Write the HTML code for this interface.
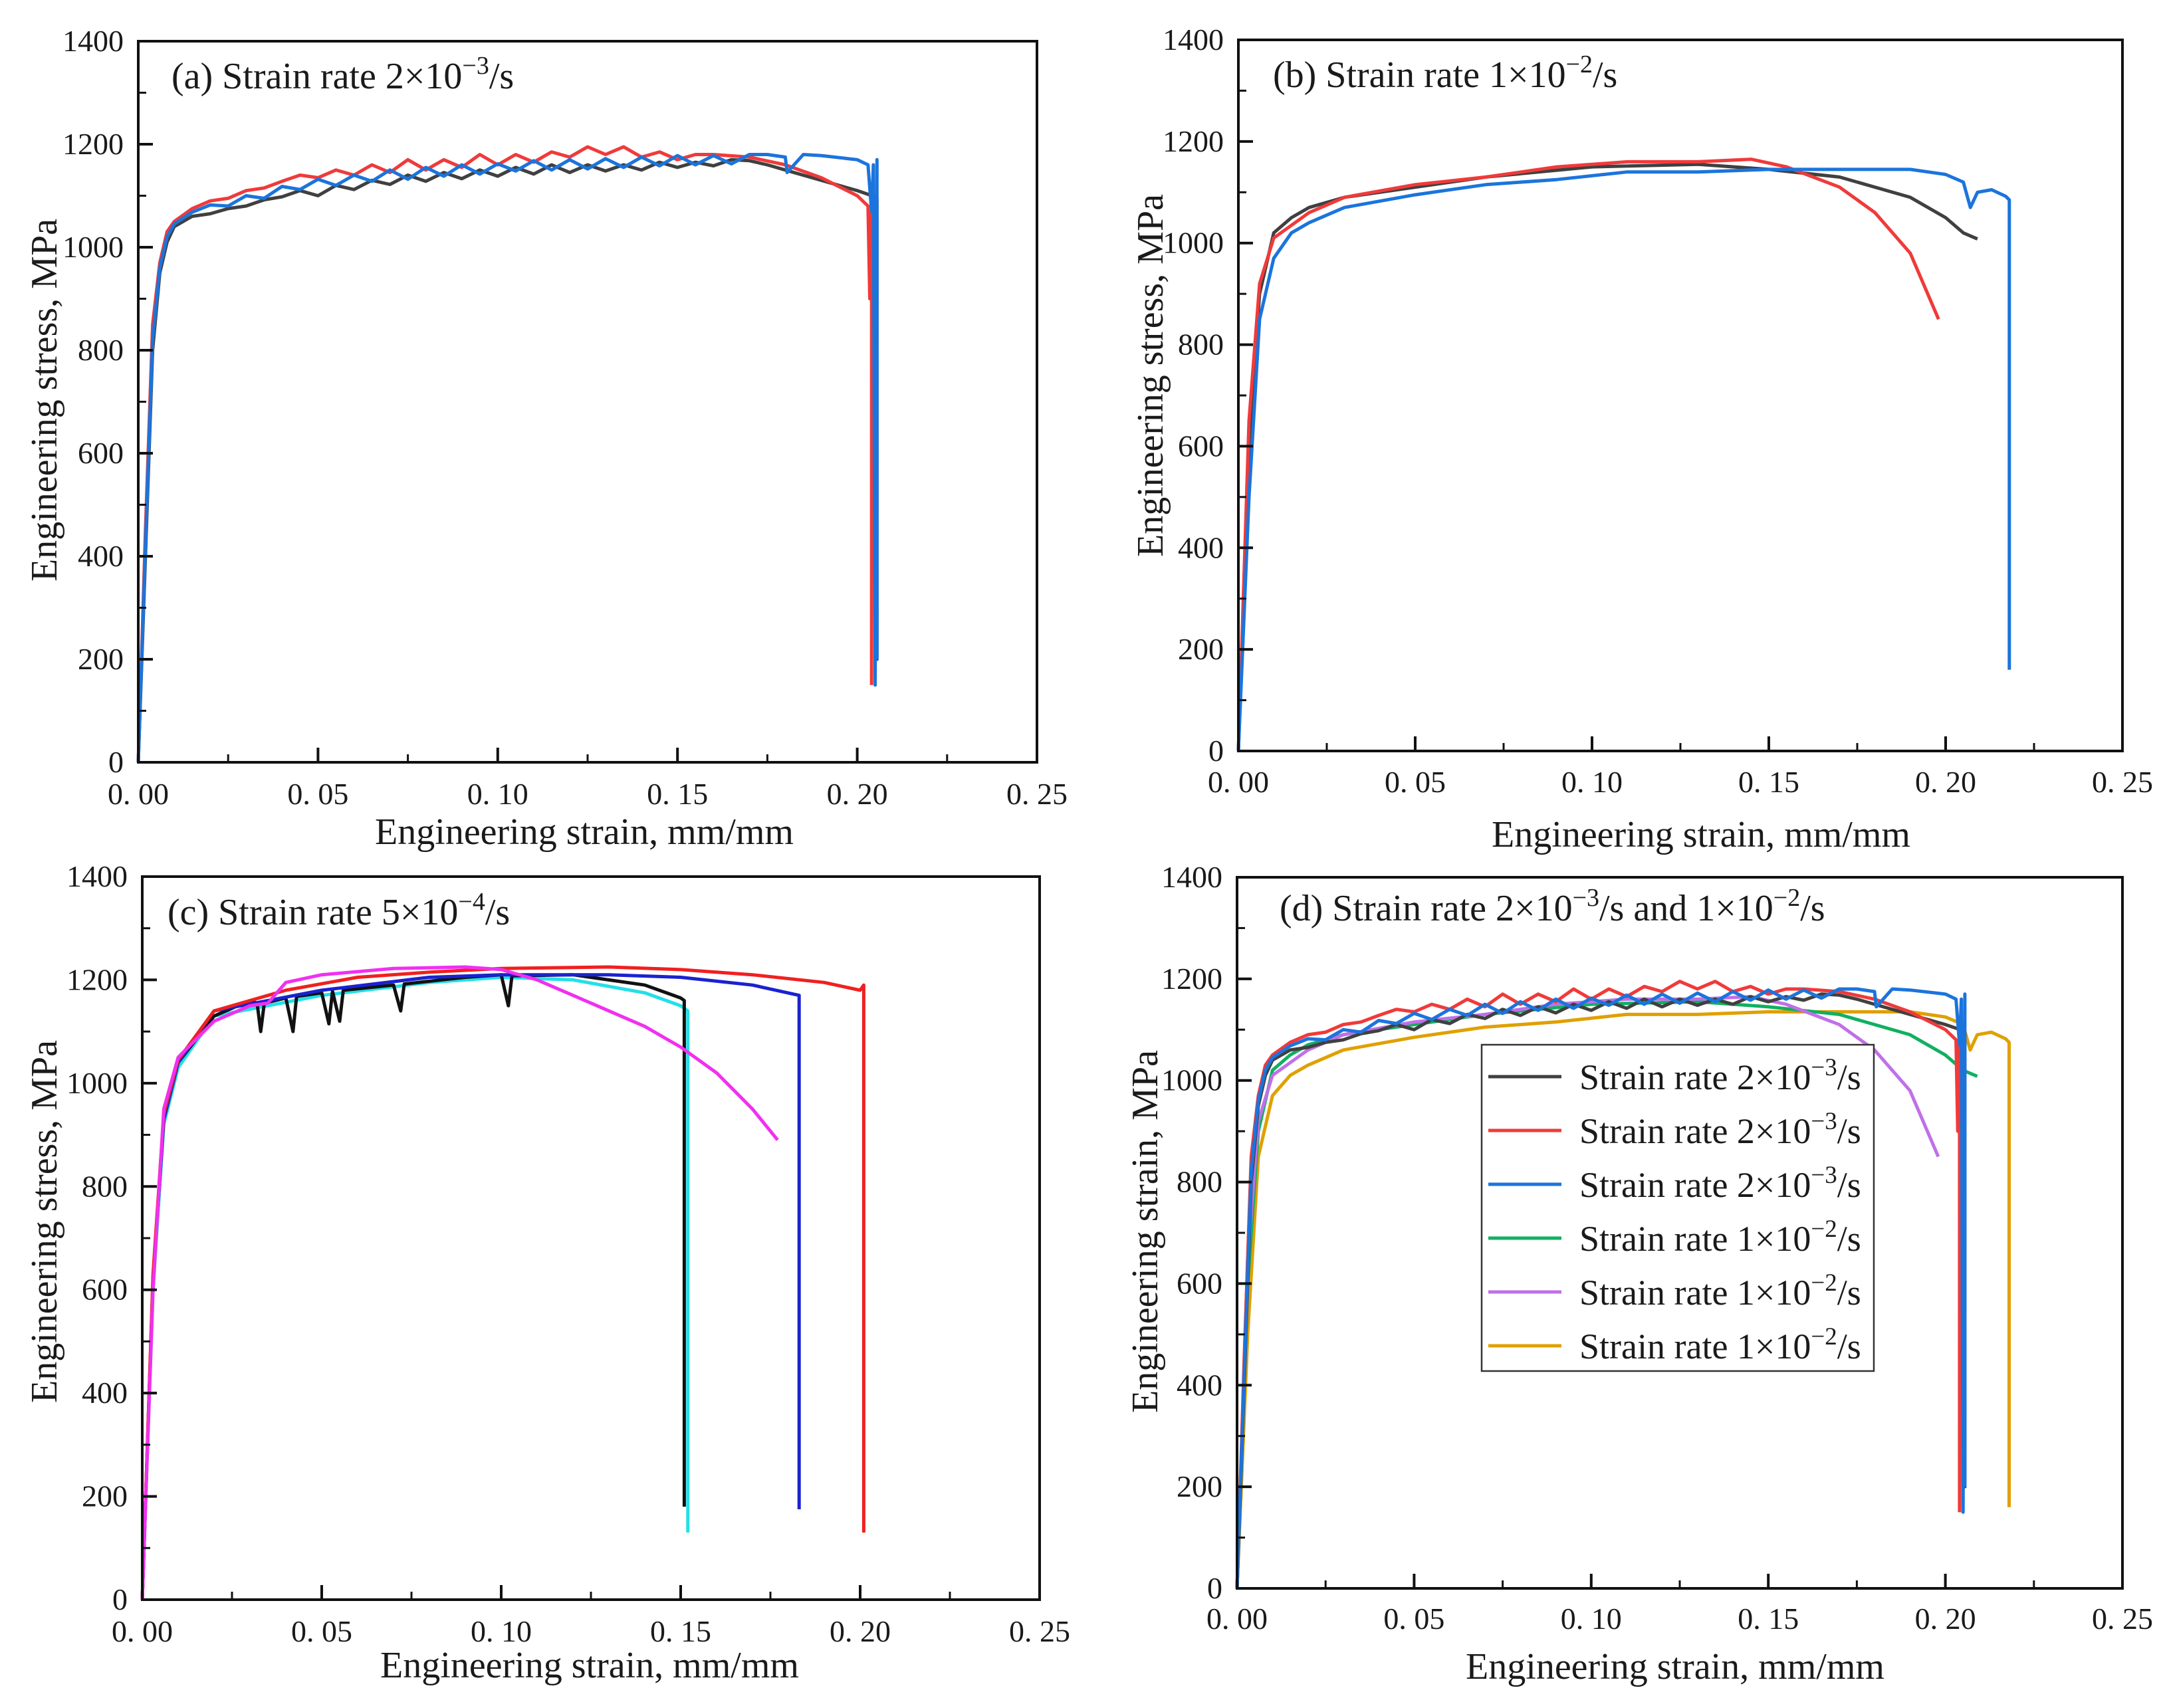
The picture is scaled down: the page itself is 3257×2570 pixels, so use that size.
<!DOCTYPE html>
<html><head><meta charset="utf-8">
<style>
html,body{margin:0;padding:0;background:#fff;}
svg{display:block;}
text{font-family:"Liberation Serif",serif;fill:#1a1a1a;}
</style></head>
<body>
<svg id="fig" width="3257" height="2570" viewBox="0 0 3257 2570" xmlns="http://www.w3.org/2000/svg"></svg>
<script>
// ---------- data ----------
const xTicks = [0, 0.05, 0.10, 0.15, 0.20, 0.25];
const xTickLabels = ["0. 00","0. 05","0. 10","0. 15","0. 20","0. 25"];
const yTicks = [0,200,400,600,800,1000,1200,1400];
const yTickLabels = ["0","200","400","600","800","1000","1200","1400"];

// panel (a): strain rate 2e-3
const a1x = [0,.002,.004,.006,.008,.01,.015,.02,.025,.03,.035,.04,.045,.05,.055,.06,.065,.07,.075,.08,.085,.09,.095,.1,.105,.11,.115,.12,.125,.13,.135,.14,.145,.15,.155,.16,.165,.17,.175,.18,.19,.2,.205,.2055,.2055];
const a1y = [0,400,800,950,1010,1040,1060,1065,1075,1080,1092,1098,1110,1100,1120,1112,1130,1122,1140,1128,1145,1133,1150,1138,1155,1142,1160,1145,1160,1148,1160,1150,1165,1155,1165,1158,1170,1168,1160,1150,1130,1110,1098,200,1095];
const a2x = [0,.002,.004,.006,.008,.01,.015,.02,.025,.03,.035,.04,.045,.05,.055,.06,.065,.07,.075,.08,.085,.09,.095,.1,.105,.11,.115,.12,.125,.13,.135,.14,.145,.15,.155,.16,.17,.18,.19,.2,.203,.2035,.204,.204];
const a2y = [0,450,850,970,1030,1050,1075,1090,1095,1110,1115,1128,1140,1135,1150,1140,1160,1145,1170,1150,1170,1155,1180,1160,1180,1165,1185,1175,1195,1180,1195,1175,1185,1170,1180,1180,1175,1160,1135,1100,1080,900,1080,150];
const a3x = [0,.002,.004,.006,.008,.01,.015,.02,.025,.03,.035,.04,.045,.05,.055,.06,.065,.07,.075,.08,.085,.09,.095,.1,.105,.11,.115,.12,.125,.13,.135,.14,.145,.15,.155,.16,.165,.17,.175,.18,.1805,.185,.19,.2,.203,.204,.2045,.205,.2055,.2055];
const a3y = [0,420,820,960,1020,1045,1068,1082,1080,1100,1095,1118,1112,1132,1120,1140,1128,1150,1132,1155,1138,1160,1142,1162,1148,1168,1150,1170,1152,1172,1155,1175,1158,1178,1160,1178,1162,1180,1180,1175,1145,1180,1178,1170,1160,1070,1160,150,1170,200];

// panel (b): strain rate 1e-2
const b1x = [0,.003,.006,.01,.015,.02,.03,.05,.07,.1,.13,.15,.17,.19,.2,.205,.209];
const b1y = [0,600,900,1020,1050,1070,1090,1110,1130,1150,1155,1145,1130,1090,1050,1020,1008];
const b2x = [0,.003,.006,.01,.02,.03,.05,.07,.09,.11,.13,.145,.155,.17,.18,.19,.198];
const b2y = [0,650,920,1010,1060,1090,1115,1130,1150,1160,1160,1165,1150,1110,1060,980,850];
const b3x = [0,.003,.006,.01,.015,.02,.03,.05,.07,.09,.11,.13,.15,.17,.19,.2,.205,.207,.209,.213,.217,.218,.218];
const b3y = [0,500,850,970,1020,1040,1070,1095,1115,1125,1140,1140,1145,1145,1145,1135,1120,1070,1100,1105,1092,1085,160];

// panel (c): strain rate 5e-4
const c1x = [0,.003,.006,.01,.02,.03,.032,.033,.034,.04,.042,.043,.05,.052,.053,.055,.056,.07,.072,.073,.09,.1,.102,.103,.12,.14,.15,.151,.151];
const c1y = [0,620,930,1040,1130,1160,1155,1100,1155,1165,1100,1168,1175,1115,1178,1120,1180,1190,1140,1192,1205,1210,1150,1208,1210,1190,1165,1160,180];
const c2x = [0,.003,.006,.01,.02,.05,.08,.1,.12,.14,.15,.152,.152];
const c2y = [0,600,920,1030,1130,1170,1195,1205,1200,1175,1150,1140,130];
const c3x = [0,.003,.006,.01,.02,.05,.08,.1,.13,.15,.17,.183,.183];
const c3y = [0,620,930,1040,1140,1180,1205,1210,1210,1205,1190,1170,175];
const c4x = [0,.003,.006,.01,.02,.04,.06,.08,.1,.13,.15,.17,.19,.2,.201,.201];
const c4y = [0,630,940,1045,1140,1180,1205,1215,1222,1225,1220,1210,1195,1180,1190,130];
const c5x = [0,.003,.006,.01,.02,.03,.035,.04,.05,.07,.09,.1,.11,.12,.13,.14,.15,.16,.17,.177];
const c5y = [0,600,950,1050,1120,1150,1155,1195,1210,1222,1225,1220,1200,1170,1140,1110,1070,1020,950,890];

const boxes = {
  a:{l:208,r:1560,t:62,b:1147, title:"(a)  Strain rate 2×10", sup:"−3", tail:"/s", tx:258, ty:133, yt:"Engineering stress, MPa", ytx:66, yty:602, xtx:879, xty:1270, xly:1210},
  b:{l:1863,r:3193,t:60,b:1130, title:"(b) Strain rate 1×10", sup:"−2", tail:"/s", tx:1915, ty:131, yt:"Engineering stress, MPa", ytx:1730, yty:565, xtx:2559, xty:1274, xly:1192},
  c:{l:214,r:1564,t:1319,b:2407, title:"(c)  Strain rate 5×10", sup:"−4", tail:"/s", tx:252, ty:1391, yt:"Engineering stress, MPa", ytx:66, yty:1838, xtx:887, xty:2524, xly:2470},
  d:{l:1861,r:3193,t:1320,b:2390, title:"(d) Strain rate 2×10", sup:"−3", tail:"/s and 1×10", sup2:"−2", tail2:"/s", tx:1925, ty:1385, yt:"Engineering strain, MPa", ytx:1722, yty:1853, xtx:2520, xty:2526, xly:2451}
};

const NS="http://www.w3.org/2000/svg";
const fig=document.getElementById('fig');
function mk(tag,attrs,parent){const e=document.createElementNS(NS,tag);for(const k in attrs)e.setAttribute(k,attrs[k]);(parent||fig).appendChild(e);return e;}

function panel(key, series){
  const B=boxes[key];
  const g=mk('g',{});
  
  
  const sx=v=>B.l+(v/0.25)*(B.r-B.l);
  const sy=v=>B.b-(v/1400)*(B.b-B.t);
  series.forEach(s=>{
    const d=s.x.map((v,i)=>(i?'L':'M')+sx(v).toFixed(1)+','+sy(s.y[i]).toFixed(1)).join(' ');
    const p=mk('path',{d:d,fill:'none',stroke:s.c,'stroke-width':5,'stroke-linejoin':'round'},g);
    
    
  });
  const fr=mk('rect',{x:B.l,y:B.t,width:B.r-B.l,height:B.b-B.t,fill:'none',stroke:'#111','stroke-width':4},g);
  
  
  xTicks.forEach((v,i)=>{
    mk('line',{x1:sx(v),x2:sx(v),y1:B.b,y2:B.b-22,stroke:'#111','stroke-width':4},g);
    if(i<xTicks.length-1) mk('line',{x1:sx(v+0.025),x2:sx(v+0.025),y1:B.b,y2:B.b-12,stroke:'#111','stroke-width':3},g);
    const t=mk('text',{x:sx(v),y:B.xly,'text-anchor':'middle','font-size':46},g);
    t.textContent=xTickLabels[i];
    
    
  });
  yTicks.forEach((v,i)=>{
    mk('line',{x1:B.l,x2:B.l+22,y1:sy(v),y2:sy(v),stroke:'#111','stroke-width':4},g);
    if(i<yTicks.length-1) mk('line',{x1:B.l,x2:B.l+12,y1:sy(v+100),y2:sy(v+100),stroke:'#111','stroke-width':3},g);
    const t=mk('text',{x:B.l-22,y:sy(v)+15,'text-anchor':'end','font-size':46},g);
    t.textContent=yTickLabels[i];
    
    
  });
  const tt=mk('text',{x:B.tx,y:B.ty,'font-size':56},g);
  
  
  let ts=mk('tspan',{},tt);ts.textContent=B.title;
  ts=mk('tspan',{dy:-22,'font-size':38},tt);ts.textContent=B.sup;
  ts=mk('tspan',{dy:22},tt);ts.textContent=B.tail;
  if(B.sup2){ts=mk('tspan',{dy:-22,'font-size':38},tt);ts.textContent=B.sup2;ts=mk('tspan',{dy:22},tt);ts.textContent=B.tail2;}
  const xt=mk('text',{x:B.xtx,y:B.xty,'text-anchor':'middle','font-size':56},g);
  xt.textContent="Engineering strain, mm/mm";
  
  
  const yt=mk('text',{x:0,y:0,'text-anchor':'middle','font-size':56,transform:`translate(${B.ytx+19},${B.yty}) rotate(-90)`},g);
  yt.textContent=B.yt;
  
  
}

const K='#404040',R='#f03a3a',BL='#1b74dc';
panel('a',[{x:a1x,y:a1y,c:K,n:'curve-a-black'},{x:a2x,y:a2y,c:R,n:'curve-a-red'},{x:a3x,y:a3y,c:BL,n:'curve-a-blue'}]);
panel('b',[{x:b1x,y:b1y,c:K,n:'curve-b-black'},{x:b2x,y:b2y,c:R,n:'curve-b-red'},{x:b3x,y:b3y,c:BL,n:'curve-b-blue'}]);
panel('c',[{x:c2x,y:c2y,c:'#22e0e8',n:'curve-c-cyan'},{x:c1x,y:c1y,c:'#111',n:'curve-c-black'},{x:c3x,y:c3y,c:'#1a22d0',n:'curve-c-blue'},{x:c4x,y:c4y,c:'#f02020',n:'curve-c-red'},{x:c5x,y:c5y,c:'#f030f0',n:'curve-c-magenta'}]);
const dCols=['#404040','#f03a3a','#1b74dc','#10b060','#c070e8','#e0a000'];
panel('d',[{x:b3x,y:b3y.map(v=>v>1000?v-10:v),c:dCols[5],n:'curve-d-gold'},{x:b1x,y:b1y,c:dCols[3],n:'curve-d-green'},{x:b2x,y:b2y,c:dCols[4],n:'curve-d-purple'},{x:a1x,y:a1y,c:dCols[0],n:'curve-d-black'},{x:a2x,y:a2y,c:dCols[1],n:'curve-d-red'},{x:a3x,y:a3y,c:dCols[2],n:'curve-d-blue'}]);

const legLabels=[["2×10","−3"],["2×10","−3"],["2×10","−3"],["1×10","−2"],["1×10","−2"],["1×10","−2"]];
const lg=mk('g',{});


mk('rect',{x:2229,y:1572,width:590,height:491,fill:'#fff',stroke:'#333','stroke-width':2.5},lg);
legLabels.forEach((L,i)=>{
  const y=1620+i*81;
  const e=mk('g',{},lg);
  
  
  mk('line',{x1:2239,x2:2349,y1:y,y2:y,stroke:dCols[i],'stroke-width':5},e);
  const t=mk('text',{x:2376,y:y+19,'font-size':54},e);
  let s=mk('tspan',{},t);s.textContent="Strain rate "+L[0];
  s=mk('tspan',{dy:-21,'font-size':37},t);s.textContent=L[1];
  s=mk('tspan',{dy:21},t);s.textContent="/s";
});
</script>
</body></html>
